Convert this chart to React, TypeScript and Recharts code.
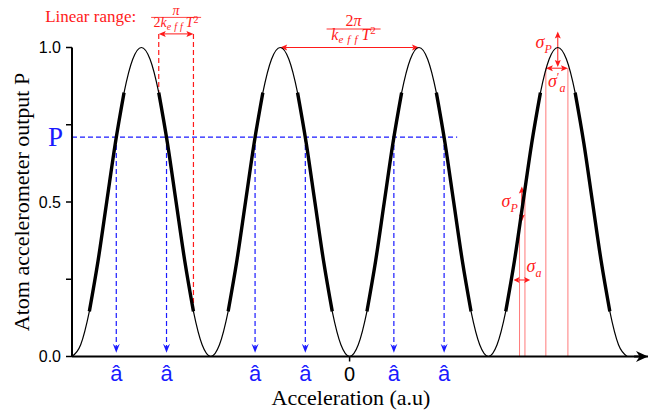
import { ComposedChart, Line, XAxis, YAxis, ReferenceLine } from "recharts";

// one fringe sampled every 1/16 of a period, four fringes
const acceleration = [
  -2, -1.9375, -1.875, -1.8125, -1.75, -1.6875, -1.625, -1.5625, -1.5, -1.4375, -1.375, -1.3125, -1.25, -1.1875, -1.125, -1.0625,
  -1, -0.9375, -0.875, -0.8125, -0.75, -0.6875, -0.625, -0.5625, -0.5, -0.4375, -0.375, -0.3125, -0.25, -0.1875, -0.125, -0.0625,
  0, 0.0625, 0.125, 0.1875, 0.25, 0.3125, 0.375, 0.4375, 0.5, 0.5625, 0.625, 0.6875, 0.75, 0.8125, 0.875, 0.9375,
  1, 1.0625, 1.125, 1.1875, 1.25, 1.3125, 1.375, 1.4375, 1.5, 1.5625, 1.625, 1.6875, 1.75, 1.8125, 1.875, 1.9375,
  2,
];
const output = [
  0, 0.038, 0.146, 0.309, 0.5, 0.691, 0.854, 0.962, 1, 0.962, 0.854, 0.691, 0.5, 0.309, 0.146, 0.038,
  0, 0.038, 0.146, 0.309, 0.5, 0.691, 0.854, 0.962, 1, 0.962, 0.854, 0.691, 0.5, 0.309, 0.146, 0.038,
  0, 0.038, 0.146, 0.309, 0.5, 0.691, 0.854, 0.962, 1, 0.962, 0.854, 0.691, 0.5, 0.309, 0.146, 0.038,
  0, 0.038, 0.146, 0.309, 0.5, 0.691, 0.854, 0.962, 1, 0.962, 0.854, 0.691, 0.5, 0.309, 0.146, 0.038,
  0,
];
// same curve, kept only on the linear part of each slope
const linearPart = [
  null, null, 0.146, 0.309, 0.5, 0.691, 0.854, null, null, null, 0.854, 0.691, 0.5, 0.309, 0.146, null,
  null, null, 0.146, 0.309, 0.5, 0.691, 0.854, null, null, null, 0.854, 0.691, 0.5, 0.309, 0.146, null,
  null, null, 0.146, 0.309, 0.5, 0.691, 0.854, null, null, null, 0.854, 0.691, 0.5, 0.309, 0.146, null,
  null, null, 0.146, 0.309, 0.5, 0.691, 0.854, null, null, null, 0.854, 0.691, 0.5, 0.309, 0.146, null,
  null,
];

const yTicks = [0, 0.25, 0.5, 0.75, 1];
const aHat = [-1.681, -1.319, -0.681, -0.319, 0.319, 0.681];
const xTicks = [-1.681, -1.319, -0.681, -0.319, 0, 0.319, 0.681];
const measuredP = 0.71;
const measuredEnd = 0.775;
const linearRange = [-1.375, -1.125];
const linearEnds = [0.854, 0.146];
const rangeLevel = 1.044;
const fringe = [-0.5, 0.5];
const sigmaGuides = [
  { a: 1.2245, top: 0.42 },
  { a: 1.2634, top: 0.548 },
  { a: 1.414, top: 0.933 },
  { a: 1.573, top: 0.933 },
];
const sigmaPTop = [0.937, 1.052];
const sigmaPSlope = [0.437, 0.55];
const sigmaPSlopeAt = 1.241;
const sigmaASlope = [1.181, 1.301];
const sigmaALevel = 0.2476;

const rows = acceleration.map((a, i) => ({ a, p: output[i], lin: linearPart[i] }));

const serif = "'Liberation Serif', 'Times New Roman', serif";
const sans = "'Liberation Sans', Arial, sans-serif";
const red = "#ff1a1a";
const blue = "#1a1aff";

type Pts = { x1: number; y1: number; x2: number; y2: number };
type ArrowOpts = {
  color: string;
  width?: number;
  dash?: string;
  start?: boolean;
  end?: boolean;
  len?: number;
  wid?: number;
  notch?: number;
  text?: (p: Pts) => React.ReactNode;
};

function head(tx: number, ty: number, ux: number, uy: number, len: number, wid: number, notch: number) {
  const nx = -uy;
  const ny = ux;
  const bx = tx - ux * len;
  const by = ty - uy * len;
  const mx = tx - ux * len * (1 - notch);
  const my = ty - uy * len * (1 - notch);
  return `M${tx},${ty}L${bx + (nx * wid) / 2},${by + (ny * wid) / 2}L${mx},${my}L${bx - (nx * wid) / 2},${by - (ny * wid) / 2}Z`;
}

const arrow = (o: ArrowOpts) => (p: any) => {
  const { x1, y1, x2, y2 } = p;
  const len = o.len ?? 7;
  const wid = o.wid ?? 6;
  const notch = o.notch ?? 0.2;
  const d = Math.hypot(x2 - x1, y2 - y1) || 1;
  const ux = (x2 - x1) / d;
  const uy = (y2 - y1) / d;
  const cut = len * (1 - notch);
  const sx = o.start ? x1 + ux * cut : x1;
  const sy = o.start ? y1 + uy * cut : y1;
  const ex = o.end ? x2 - ux * cut : x2;
  const ey = o.end ? y2 - uy * cut : y2;
  return (
    <g>
      <line x1={sx} y1={sy} x2={ex} y2={ey} stroke={o.color} strokeWidth={o.width ?? 1} strokeDasharray={o.dash} />
      {o.start && <path d={head(x1, y1, -ux, -uy, len, wid, notch)} fill={o.color} />}
      {o.end && <path d={head(x2, y2, ux, uy, len, wid, notch)} fill={o.color} />}
      {o.text && o.text({ x1, y1, x2, y2 })}
    </g>
  );
};

const Sigma = ({ x, y, sub, prime, anchor }: { x: number; y: number; sub: string; prime?: boolean; anchor: "start" | "end" | "middle" }) => (
  <text x={x} y={y} textAnchor={anchor} fill={red} fontFamily={serif} fontSize={18} fontStyle="italic">
    σ
    {prime && (
      <tspan dy={-6} fontSize={12} fontStyle="normal">
        ′
      </tspan>
    )}
    <tspan dy={prime ? 11 : 5} fontSize={12}>
      {sub}
    </tspan>
  </text>
);

const AccelTick = (props: any) => {
  const { x, y, payload } = props;
  if (payload.value === 0) {
    return (
      <g>
        <line x1={x} x2={x} y1={y} y2={y + 5} stroke="#000" strokeWidth={1.5} />
        <text x={x} y={y + 24} textAnchor="middle" fontFamily={sans} fontSize={20} fill="#000">
          0
        </text>
      </g>
    );
  }
  return (
    <text x={x} y={y + 24} textAnchor="middle" fontFamily={sans} fontSize={22} fill={blue}>
      â
    </text>
  );
};

const XTitle = (props: any) => {
  const vb = props.viewBox;
  return (
    <text x={vb.x + 279} y={vb.y + 48.5} textAnchor="middle" fontFamily={serif} fontSize={22} fill="#000">
      Acceleration (a.u)
    </text>
  );
};

const YTitle = (props: any) => {
  const vb = props.viewBox;
  const cx = vb.x + 29;
  const cy = vb.y + vb.height / 2;
  return (
    <text x={cx} y={cy} transform={`rotate(-90 ${cx} ${cy})`} textAnchor="middle" fontFamily={serif} fontSize={22} fill="#000">
      Atom accelerometer output P
    </text>
  );
};

export default function App() {
  return (
    <div style={{ position: "absolute", left: 0, top: 0, width: 651, height: 411, background: "#fff" }}>
      <ComposedChart width={651} height={411} data={rows} margin={{ top: 47.5, right: 3, bottom: 0, left: 0 }}>
        <XAxis
          dataKey="a"
          type="number"
          domain={[-2, 2.15]}
          allowDataOverflow
          ticks={xTicks}
          interval={0}
          tickLine={false}
          tickSize={0}
          tickMargin={0}
          axisLine={{ stroke: "#000", strokeWidth: 2 }}
          height={54.5}
          tick={AccelTick}
          label={XTitle}
        />
        <YAxis
          type="number"
          domain={[0, 1]}
          ticks={yTicks}
          interval={0}
          width={72}
          tickSize={6}
          tickMargin={5}
          tickFormatter={(v: number) => (v === 0.25 || v === 0.75 ? "" : v.toFixed(1))}
          tick={{ fill: "#000", fontSize: 16, fontFamily: sans }}
          tickLine={{ stroke: "#000", strokeWidth: 1.5 }}
          axisLine={{ stroke: "#000", strokeWidth: 2 }}
          label={YTitle}
        />

        {/* x axis arrow head */}
        <ReferenceLine
          segment={[{ x: 2.05, y: 0 }, { x: 2.15, y: 0 }]}
          ifOverflow="visible"
          shape={arrow({ color: "#000", width: 2, end: true, len: 12, wid: 11, notch: 0.3 })}
        />

        {/* set point and readings */}
        <ReferenceLine
          segment={[{ x: -2, y: measuredP }, { x: measuredEnd, y: measuredP }]}
          ifOverflow="visible"
          shape={arrow({
            color: blue,
            width: 1.2,
            dash: "5 3",
            text: (p) => (
              <text x={p.x1 - 9} y={p.y1 + 9} textAnchor="end" fontFamily={serif} fontSize={27} fill={blue}>
                P
              </text>
            ),
          })}
        />
        {aHat.map((a) => (
          <ReferenceLine
            key={a}
            segment={[{ x: a, y: measuredP }, { x: a, y: 0.012 }]}
            ifOverflow="visible"
            shape={arrow({ color: blue, width: 1.2, dash: "5 3", end: true, len: 9, wid: 7, notch: 0.35 })}
          />
        ))}

        {/* linear range */}
        <ReferenceLine
          segment={[{ x: linearRange[0], y: rangeLevel }, { x: linearRange[0], y: linearEnds[0] }]}
          ifOverflow="visible"
          shape={arrow({ color: red, width: 1.2, dash: "5 3" })}
        />
        <ReferenceLine
          segment={[{ x: linearRange[1], y: rangeLevel }, { x: linearRange[1], y: linearEnds[1] }]}
          ifOverflow="visible"
          shape={arrow({ color: red, width: 1.2, dash: "5 3" })}
        />
        <ReferenceLine
          segment={[{ x: linearRange[0], y: rangeLevel }, { x: linearRange[1], y: rangeLevel }]}
          ifOverflow="visible"
          shape={arrow({
            color: red,
            start: true,
            end: true,
            text: (p) => {
              const cx = (p.x1 + p.x2) / 2;
              const bar = p.y1 - 16.5;
              return (
                <g fill={red} fontFamily={serif}>
                  <text x={p.x1 - 22.5} y={p.y1 - 12} textAnchor="end" fontSize={17}>
                    Linear range:
                  </text>
                  <text x={cx} y={bar - 2.5} textAnchor="middle" fontSize={14} fontStyle="italic">
                    π
                  </text>
                  <line x1={cx - 25} x2={cx + 25} y1={bar} y2={bar} stroke={red} strokeWidth={0.8} />
                  <text x={cx} y={bar + 10} textAnchor="middle" fontSize={14}>
                    2<tspan fontStyle="italic">k</tspan>
                    <tspan dy={2.5} fontSize={10} fontStyle="italic" letterSpacing={3}>
                      eff
                    </tspan>
                    <tspan dy={-2.5} fontStyle="italic">
                      T
                    </tspan>
                    <tspan dy={-4.5} fontSize={10}>
                      2
                    </tspan>
                  </text>
                </g>
              );
            },
          })}
        />

        {/* one fringe period */}
        <ReferenceLine
          segment={[{ x: fringe[0], y: 1 }, { x: fringe[1], y: 1 }]}
          ifOverflow="visible"
          shape={arrow({
            color: red,
            start: true,
            end: true,
            text: (p) => {
              const cx = (p.x1 + p.x2) / 2 + 4;
              const bar = p.y1 - 18.5;
              return (
                <g fill={red} fontFamily={serif}>
                  <text x={cx} y={bar - 3} textAnchor="middle" fontSize={16}>
                    2<tspan fontStyle="italic">π</tspan>
                  </text>
                  <line x1={cx - 27} x2={cx + 27} y1={bar} y2={bar} stroke={red} strokeWidth={0.9} />
                  <text x={cx} y={bar + 11} textAnchor="middle" fontSize={16}>
                    <tspan fontStyle="italic">k</tspan>
                    <tspan dy={3} fontSize={11} fontStyle="italic" letterSpacing={4}>
                      eff
                    </tspan>
                    <tspan dy={-3} fontStyle="italic">
                      T
                    </tspan>
                    <tspan dy={-6} fontSize={11}>
                      2
                    </tspan>
                  </text>
                </g>
              );
            },
          })}
        />

        {/* noise guides on the last fringe */}
        {sigmaGuides.map((g) => (
          <ReferenceLine
            key={g.a}
            segment={[{ x: g.a, y: 0 }, { x: g.a, y: g.top }]}
            ifOverflow="visible"
            shape={arrow({ color: "#ff7a7a", width: 1 })}
          />
        ))}
        <ReferenceLine
          segment={[{ x: 1.5, y: sigmaPTop[0] }, { x: 1.5, y: sigmaPTop[1] }]}
          ifOverflow="visible"
          shape={arrow({
            color: red,
            start: true,
            end: true,
            text: (p) => <Sigma x={p.x2 - 6} y={p.y2 + 17} sub="P" anchor="end" />,
          })}
        />
        <ReferenceLine
          segment={[{ x: sigmaGuides[2].a, y: sigmaGuides[2].top }, { x: sigmaGuides[3].a, y: sigmaGuides[3].top }]}
          ifOverflow="visible"
          shape={arrow({
            color: red,
            start: true,
            end: true,
            text: (p) => <Sigma x={(p.x1 + p.x2) / 2 - 9} y={p.y1 + 19} sub="a" prime anchor="start" />,
          })}
        />
        <ReferenceLine
          segment={[{ x: sigmaPSlopeAt, y: sigmaPSlope[0] }, { x: sigmaPSlopeAt, y: sigmaPSlope[1] }]}
          ifOverflow="visible"
          shape={arrow({
            color: red,
            start: true,
            end: true,
            text: (p) => <Sigma x={p.x1 - 4} y={(p.y1 + p.y2) / 2 + 3} sub="P" anchor="end" />,
          })}
        />
        <ReferenceLine
          segment={[{ x: sigmaASlope[0], y: sigmaALevel }, { x: sigmaASlope[1], y: sigmaALevel }]}
          ifOverflow="visible"
          shape={arrow({
            color: red,
            start: true,
            end: true,
            len: 6,
            wid: 6,
            text: (p) => <Sigma x={p.x1 + 13} y={p.y1 - 8} sub="a" anchor="start" />,
          })}
        />

        <Line dataKey="p" type="monotone" stroke="#000" strokeWidth={1.2} dot={false} isAnimationActive={false} />
        <Line
          dataKey="lin"
          type="monotone"
          stroke="#000"
          strokeWidth={3.4}
          dot={false}
          connectNulls={false}
          isAnimationActive={false}
        />
      </ComposedChart>
    </div>
  );
}
